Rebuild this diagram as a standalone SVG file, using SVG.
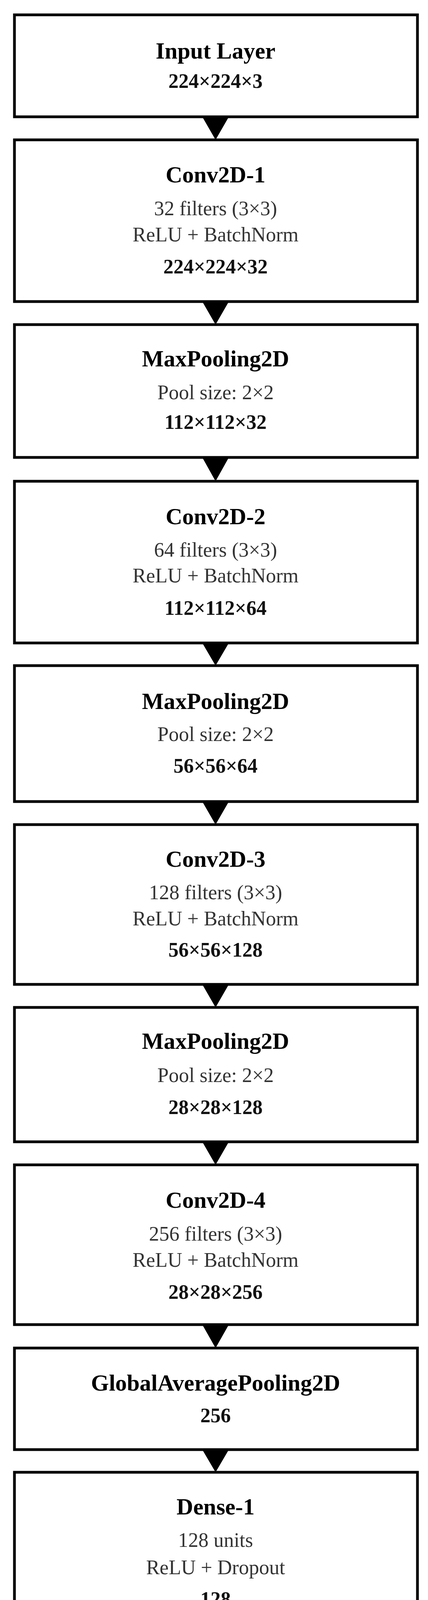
<svg xmlns="http://www.w3.org/2000/svg" width="1096" height="5163" viewBox="0 0 1096 5163">
<style>
  .box{fill:#fff;stroke:#000;stroke-width:7}
  text{font-family:"Liberation Serif","Times New Roman",serif;text-anchor:middle}
  .t{font-size:59px;font-weight:bold;fill:#000}
  .d{font-size:52px;fill:#333}
  .s{font-size:52px;font-weight:bold;fill:#111}
  .arr{fill:#000}
</style>
<rect width="1096" height="5163" fill="#fff"/>
<g id="n1"><rect class="box" x="37" y="38" width="1032" height="261"/>
<text class="t" x="552" y="150">Input Layer</text>
<text class="s" x="552" y="225">224×224×3</text></g>
<g id="n2"><rect class="box" x="37" y="358" width="1032" height="414"/>
<text class="t" x="552" y="467">Conv2D-1</text>
<text class="d" x="552" y="551">32 filters (3×3)</text>
<text class="d" x="552" y="618">ReLU + BatchNorm</text>
<text class="s" x="552" y="700">224×224×32</text></g>
<g id="n3"><rect class="box" x="37" y="831" width="1032" height="340"/>
<text class="t" x="552" y="938">MaxPooling2D</text>
<text class="d" x="552" y="1022">Pool size: 2×2</text>
<text class="s" x="552" y="1098">112×112×32</text></g>
<g id="n4"><rect class="box" x="37" y="1232" width="1032" height="414"/>
<text class="t" x="552" y="1342">Conv2D-2</text>
<text class="d" x="552" y="1425">64 filters (3×3)</text>
<text class="d" x="552" y="1491">ReLU + BatchNorm</text>
<text class="s" x="552" y="1574">112×112×64</text></g>
<g id="n5"><rect class="box" x="37" y="1704" width="1032" height="348"/>
<text class="t" x="552" y="1815">MaxPooling2D</text>
<text class="d" x="552" y="1897">Pool size: 2×2</text>
<text class="s" x="552" y="1978">56×56×64</text></g>
<g id="n6"><rect class="box" x="37" y="2111" width="1032" height="409"/>
<text class="t" x="552" y="2219">Conv2D-3</text>
<text class="d" x="552" y="2302">128 filters (3×3)</text>
<text class="d" x="552" y="2369">ReLU + BatchNorm</text>
<text class="s" x="552" y="2449">56×56×128</text></g>
<g id="n7"><rect class="box" x="37" y="2579" width="1032" height="344"/>
<text class="t" x="552" y="2685">MaxPooling2D</text>
<text class="d" x="552" y="2770">Pool size: 2×2</text>
<text class="s" x="552" y="2852">28×28×128</text></g>
<g id="n8"><rect class="box" x="37" y="2982" width="1032" height="409"/>
<text class="t" x="552" y="3092">Conv2D-4</text>
<text class="d" x="552" y="3176">256 filters (3×3)</text>
<text class="d" x="552" y="3243">ReLU + BatchNorm</text>
<text class="s" x="552" y="3325">28×28×256</text></g>
<g id="n9"><rect class="box" x="37" y="3451" width="1032" height="260"/>
<text class="t" x="552" y="3560">GlobalAveragePooling2D</text>
<text class="s" x="552" y="3641">256</text></g>
<g id="n10"><rect class="box" x="37" y="3769" width="1032" height="417"/>
<text class="t" x="552" y="3877">Dense-1</text>
<text class="d" x="552" y="3960">128 units</text>
<text class="d" x="552" y="4030">ReLU + Dropout</text>
<text class="s" x="552" y="4111">128</text></g>
<g id="n11"><rect class="box" x="37" y="4245" width="1032" height="409"/>
<text class="t" x="552" y="4350">Dense-2</text>
<text class="d" x="552" y="4434">64 units</text>
<text class="d" x="552" y="4501">ReLU + Dropout</text>
<text class="s" x="552" y="4580">64</text></g>
<g id="n12"><rect class="box" x="37" y="4713" width="1032" height="417"/>
<text class="t" x="552" y="4816">Output Layer</text>
<text class="d" x="552" y="4905">9 classes</text>
<text class="d" x="552" y="4973">Softmax</text>
<text class="s" x="552" y="5055">9</text></g>
<g id="connectors">
<polygon class="arr" points="518,299 586,299 552,358"/>
<polygon class="arr" points="518,772 586,772 552,831"/>
<polygon class="arr" points="518,1171 586,1171 552,1232"/>
<polygon class="arr" points="518,1646 586,1646 552,1704"/>
<polygon class="arr" points="518,2052 586,2052 552,2111"/>
<polygon class="arr" points="518,2520 586,2520 552,2579"/>
<polygon class="arr" points="518,2923 586,2923 552,2982"/>
<polygon class="arr" points="518,3391 586,3391 552,3451"/>
<polygon class="arr" points="518,3711 586,3711 552,3769"/>
<polygon class="arr" points="518,4186 586,4186 552,4245"/>
<polygon class="arr" points="518,4654 586,4654 552,4713"/>
</g>
</svg>
